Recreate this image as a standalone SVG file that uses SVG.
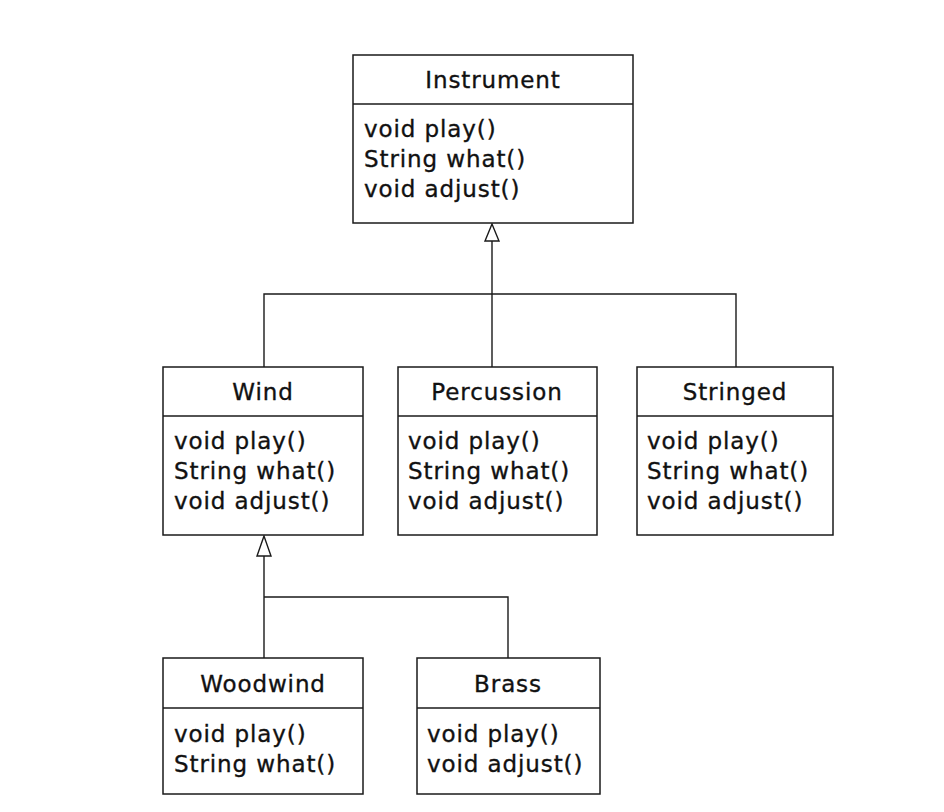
<svg xmlns="http://www.w3.org/2000/svg" width="944" height="812" viewBox="0 0 944 812">
<style>
.box{fill:#fff;stroke:#1a1a1a;stroke-width:1.5}
.div{stroke:#1a1a1a;stroke-width:1.5}
.t{font-family:"DejaVu Sans",Verdana,sans-serif;font-size:23px;letter-spacing:0.9px;fill:#111;stroke:#111;stroke-width:0.35}
.h{text-anchor:middle}
.c{fill:none;stroke:#1a1a1a;stroke-width:1.4}
.tri{fill:#fff;stroke:#1a1a1a;stroke-width:1.4}
</style>
<rect width="944" height="812" fill="#fff"/>
<g id="connectors">
<path class="c" d="M492 241V367M264 367V294H736V367"/>
<polygon class="tri" points="492,224 485,241 499,241"/>
<path class="c" d="M264 556V658M264 597H508V658"/>
<polygon class="tri" points="264,536 257,556 271,556"/>
</g>
<g id="Instrument">
<rect class="box" x="353" y="55" width="280" height="168"/>
<line class="div" x1="353" y1="104" x2="633" y2="104"/>
<text class="t h" x="493" y="88">Instrument</text>
<text class="t" x="364" y="137">void play()</text>
<text class="t" x="364" y="167">String what()</text>
<text class="t" x="364" y="197">void adjust()</text>
</g>
<g id="Wind">
<rect class="box" x="163" y="367" width="200" height="168"/>
<line class="div" x1="163" y1="416" x2="363" y2="416"/>
<text class="t h" x="263" y="400">Wind</text>
<text class="t" x="174" y="449">void play()</text>
<text class="t" x="174" y="479">String what()</text>
<text class="t" x="174" y="509">void adjust()</text>
</g>
<g id="Percussion">
<rect class="box" x="398" y="367" width="199" height="168"/>
<line class="div" x1="398" y1="416" x2="597" y2="416"/>
<text class="t h" x="497" y="400">Percussion</text>
<text class="t" x="408" y="449">void play()</text>
<text class="t" x="408" y="479">String what()</text>
<text class="t" x="408" y="509">void adjust()</text>
</g>
<g id="Stringed">
<rect class="box" x="637" y="367" width="196" height="168"/>
<line class="div" x1="637" y1="416" x2="833" y2="416"/>
<text class="t h" x="735" y="400">Stringed</text>
<text class="t" x="647" y="449">void play()</text>
<text class="t" x="647" y="479">String what()</text>
<text class="t" x="647" y="509">void adjust()</text>
</g>
<g id="Woodwind">
<rect class="box" x="163" y="658" width="200" height="136"/>
<line class="div" x1="163" y1="708" x2="363" y2="708"/>
<text class="t h" x="263" y="692">Woodwind</text>
<text class="t" x="174" y="742">void play()</text>
<text class="t" x="174" y="772">String what()</text>
</g>
<g id="Brass">
<rect class="box" x="417" y="658" width="183" height="136"/>
<line class="div" x1="417" y1="708" x2="600" y2="708"/>
<text class="t h" x="508" y="692">Brass</text>
<text class="t" x="427" y="742">void play()</text>
<text class="t" x="427" y="772">void adjust()</text>
</g>
</svg>
